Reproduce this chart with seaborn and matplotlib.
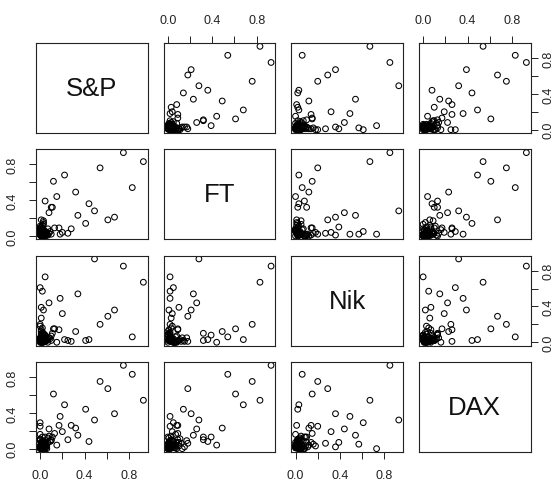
import matplotlib
matplotlib.use("Agg")
import numpy as np
import pandas as pd
import matplotlib.pyplot as plt
import seaborn as sns

# variable names (diagonal labels)
names = ["S&P", "FT", "Nik", "DAX"]

sp = [0.93, 0.75, 0.83, 0.67, 0.61, 0.54, 0.49, 0.44, 0.41, 0.34, 0.32, 0.28,
      0.25, 0.22, 0.20, 0.18, 0.15, 0.12, 0.11, 0.08, 0.045, 0.00, 0.01, 0.00,
      0.00, 0.045, 0.10, 0.03, 0.02, 0.03, 0.01, 0.13, 0.17,
      0.00, 0.01, 0.02, 0.00, 0.03, 0.01, 0.04, 0.02, 0.00, 0.05, 0.01, 0.03,
      0.02, 0.06, 0.00, 0.01, 0.04, 0.02, 0.07, 0.03, 0.01, 0.00, 0.02, 0.05,
      0.03, 0.08, 0.01, 0.02, 0.04, 0.00, 0.06, 0.03, 0.01, 0.02, 0.09, 0.00,
      0.05, 0.02, 0.01, 0.03, 0.10, 0.04, 0.02, 0.00, 0.07]
ft = [0.83, 0.93, 0.54, 0.21, 0.18, 0.76, 0.28, 0.36, 0.14, 0.23, 0.49, 0.08,
      0.03, 0.68, 0.04, 0.02, 0.44, 0.61, 0.32, 0.26, 0.02, 0.05, 0.10, 0.02,
      0.04, 0.39, 0.32, 0.17, 0.02, 0.01, 0.03, 0.09, 0.09,
      0.01, 0.00, 0.03, 0.02, 0.01, 0.05, 0.00, 0.04, 0.02, 0.03, 0.07, 0.01,
      0.06, 0.02, 0.09, 0.00, 0.03, 0.12, 0.01, 0.05, 0.02, 0.04, 0.08, 0.00,
      0.15, 0.03, 0.01, 0.06, 0.02, 0.11, 0.04, 0.00, 0.18, 0.02, 0.05, 0.07,
      0.01, 0.03, 0.10, 0.13, 0.02, 0.06, 0.00, 0.04, 0.08]
nik = [0.67, 0.85, 0.06, 0.36, 0.29, 0.20, 0.93, 0.03, 0.02, 0.54, 0.12, 0.01,
       0.02, 0.03, 0.32, 0.49, 0.00, 0.15, 0.10, 0.44, 0.73, 0.61, 0.39, 0.20,
       0.18, 0.08, 0.02, 0.05, 0.57, 0.36, 0.27, 0.15, 0.14,
       0.02, 0.00, 0.01, 0.05, 0.03, 0.00, 0.08, 0.02, 0.04, 0.01, 0.06, 0.10,
       0.00, 0.03, 0.02, 0.12, 0.05, 0.01, 0.04, 0.00, 0.09, 0.03, 0.07, 0.02,
       0.01, 0.05, 0.14, 0.00, 0.06, 0.03, 0.02, 0.08, 0.01, 0.11, 0.04, 0.00,
       0.03, 0.16, 0.02, 0.05, 0.07, 0.01, 0.09, 0.04, 0.00]
dax = [0.54, 0.93, 0.83, 0.39, 0.67, 0.75, 0.32, 0.08, 0.44, 0.15, 0.23, 0.26,
       0.10, 0.49, 0.19, 0.36, 0.04, 0.61, 0.13, 0.22, 0.00, 0.29, 0.07, 0.25,
       0.03, 0.13, 0.10, 0.09, 0.05, 0.02, 0.06, 0.17, 0.26,
       0.00, 0.02, 0.04, 0.01, 0.06, 0.03, 0.00, 0.08, 0.02, 0.05, 0.01, 0.07,
       0.03, 0.00, 0.10, 0.04, 0.02, 0.06, 0.12, 0.01, 0.03, 0.09, 0.00, 0.05,
       0.02, 0.14, 0.07, 0.01, 0.04, 0.11, 0.03, 0.00, 0.06, 0.02, 0.08, 0.16,
       0.01, 0.05, 0.03, 0.00, 0.09, 0.04, 0.13, 0.02, 0.07]

tick_vals = [0.0, 0.2, 0.4, 0.6, 0.8]
tick_labels = ["0.0", "", "0.4", "", "0.8"]

df = pd.DataFrame({"S&P": sp, "FT": ft, "Nik": nik, "DAX": dax})

sns.set_style("white")
plt.rcParams["font.family"] = ["Liberation Sans", "DejaVu Sans"]

W, H = 558, 485
fig = plt.figure(figsize=(W / 100, H / 100), dpi=100)

# panel geometry in pixels
col_left = [36, 163.7, 291.4, 419]
row_top = [44, 150.3, 256.6, 363]
pw, ph = 111.5, 90

lims = {}
for v in names:
    lo, hi = df[v].min(), df[v].max()
    r = hi - lo
    lims[v] = (lo - 0.04 * r, hi + 0.04 * r)

for i, yv in enumerate(names):
    for j, xv in enumerate(names):
        ax = fig.add_axes([col_left[j] / W, 1 - (row_top[i] + ph) / H, pw / W, ph / H])
        ax.set_xlim(lims[xv])
        ax.set_ylim(lims[yv])
        if i == j:
            ax.text(0.5, 0.5, yv, transform=ax.transAxes, ha="center",
                    va="center", fontsize=18.5, color="#111111")
        else:
            sns.scatterplot(data=df, x=xv, y=yv, ax=ax, marker="o", s=17,
                            facecolor="none", edgecolor="black", linewidth=0.75)
        ax.set_xlabel("")
        ax.set_ylabel("")
        for sp_ in ax.spines.values():
            sp_.set_color("#222222")
            sp_.set_linewidth(0.8)
        ax.tick_params(which="both", bottom=False, top=False, left=False,
                       right=False, labelbottom=False, labeltop=False,
                       labelleft=False, labelright=False, direction="out",
                       length=5, width=0.7, pad=7.5, labelsize=9,
                       colors="#222222")
        ax.set_xticks(tick_vals)
        ax.set_xticklabels(tick_labels)
        ax.set_yticks(tick_vals)
        ax.set_yticklabels(tick_labels, rotation=90, va="center")
        # R pairs() style alternating axes
        if i == 0 and j % 2 == 1:
            ax.tick_params(top=True, labeltop=True)
        if i == 3 and j % 2 == 0:
            ax.tick_params(bottom=True, labelbottom=True)
        if j == 0 and i % 2 == 1:
            ax.tick_params(left=True, labelleft=True)
        if j == 3 and i % 2 == 0:
            # keep the right-hand labels inside the canvas
            ax.tick_params(axis="y", right=True, labelright=True, pad=4)

fig.savefig("out.png", dpi=100)
